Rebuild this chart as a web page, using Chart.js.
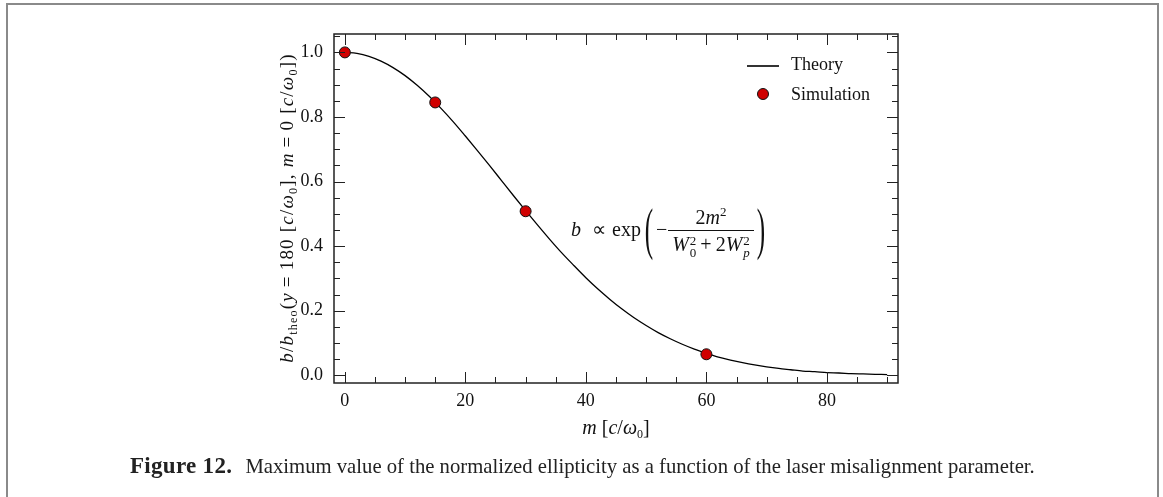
<!DOCTYPE html>
<html>
<head>
<meta charset="utf-8">
<script src="https://cdn.jsdelivr.net/npm/chart.js@4.4.1/dist/chart.umd.min.js"></script>
<style>
  html, body { margin: 0; padding: 0; background: #fff; }
  #wrap { position: relative; width: 1163px; height: 497px; overflow: hidden; }
  #frame { position: absolute; left: 6px; top: 3px; width: 1153px; height: 600px; border: 2px solid #8a8a8a; box-sizing: border-box; }
  canvas { position: absolute; left: 0; top: 0; }
  .tx { position: absolute; font-family: 'Liberation Serif', serif; color: #111; white-space: nowrap; }
  .tx i { font-style: italic; }
  .ss { display: inline-flex; flex-direction: column; font-size: 13px; line-height: 12px; vertical-align: middle; margin-left: 1px; position: relative; top: 1px; }
  .sb { font-size: 12px; position: relative; top: 4px; }
  .op { margin: 0 5px; }
  #xtitle { left: 556px; top: 416px; width: 120px; text-align: center; font-size: 20px; }
  #ytitle { left: 112px; top: 198px; width: 350px; height: 20px; line-height: 20px; text-align: center; font-size: 19px; letter-spacing: 1.2px; transform: rotate(-90deg); transform-origin: 50% 50%; }
  #formula { left: 571px; top: 201px; font-size: 20px; display: flex; align-items: center; height: 56px; }
  .paren { font-size: 36px; display: inline-block; transform: scale(0.7, 1.6); margin: 0 1px; }
  .frac { display: inline-flex; flex-direction: column; align-items: center; margin: 0 2px 0 3px; }
  .frac .num { padding: 0 2px 1px; border-bottom: 1px solid #111; width: 100%; text-align: center; line-height: 24px; }
  .frac .den { padding: 0 2px; line-height: 26px; }
  #caption { left: 130px; top: 453px; font-size: 20.7px; color: #222; }
  #caption b { font-size: 23px; letter-spacing: 0.3px; margin-right: 8px; }
</style>
</head>
<body>
<div id="wrap">
  <div id="frame"></div>
  <canvas id="c" width="1163" height="497"></canvas>
  <div class="tx" id="xtitle"><i>m</i> [<i>c</i>/<i>ω</i><span class="sb">0</span>]</div>
  <div class="tx" id="ytitle"><i>b</i>/<i>b</i><span class="sb">theo</span>(<i>y</i><span class="op">=</span>180 [<i>c</i>/<i>ω</i><span class="sb">0</span>], <i>m</i><span class="op">=</span>0 [<i>c</i>/<i>ω</i><span class="sb">0</span>])</div>
  <div class="tx" id="formula">
    <span><i>b</i></span>
    <span style="margin:0 6px 0 11px">∝</span>
    <span>exp</span>
    <span class="paren" style="margin-left:2px">(</span>
    <span>−</span>
    <span class="frac">
      <span class="num">2<i>m</i><sup style="font-size:13px">2</sup></span>
      <span class="den"><i>W</i><span class="ss"><span>2</span><span>0</span></span><span style="margin:0 4px">+</span>2<i>W</i><span class="ss"><span>2</span><span><i>p</i></span></span></span>
    </span>
    <span class="paren">)</span>
  </div>
  <div class="tx" id="caption"><b>Figure 12.</b> Maximum value of the normalized ellipticity as a function of the laser misalignment parameter.</div>
</div>
<script>
// ---- data ----
const theoryM = [0,2,4,6,8,10,12,14,16,18,20,22,24,26,28,30,32,34,36,38,40,42,44,46,48,50,52,54,56,58,60,62,64,66,68,70,72,74,76,78,80,82,84,86,88,90];
const theoryB = [1.000,0.997,0.988,0.973,0.953,0.928,0.898,0.864,0.826,0.785,0.741,0.696,0.650,0.603,0.556,0.510,0.465,0.421,0.379,0.340,0.302,0.267,0.235,0.205,0.178,0.154,0.132,0.113,0.096,0.081,0.068,0.056,0.047,0.039,0.032,0.026,0.021,0.017,0.013,0.011,0.008,0.007,0.005,0.004,0.003,0.002];
const simM = [0, 15, 30, 60];
const simB = [1.000, 0.845, 0.508, 0.065];
const xTicksMajor = [0, 20, 40, 60, 80];
const yTicksMajor = [0.0, 0.2, 0.4, 0.6, 0.8, 1.0];
const legendLabels = ['Theory', 'Simulation'];

const FONT = "'Liberation Serif', serif";

const theoryData = theoryM.map((m, i) => ({ x: m, y: theoryB[i] }));
const simData = simM.map((m, i) => ({ x: m, y: simB[i] }));

const boxTicks = {
  id: 'boxTicks',
  afterDatasetsDraw(chart) {
    const { ctx, chartArea: a, scales } = chart;
    const xs = scales.x, ys = scales.y;
    ctx.save();
    ctx.strokeStyle = '#222';
    ctx.lineWidth = 1;
    const major = 11, minor = 6;
    for (let v = 0; v <= 90; v += 5) {
      const px = Math.round(xs.getPixelForValue(v)) + 0.5;
      const len = (v % 20 === 0) ? major : minor;
      ctx.beginPath();
      ctx.moveTo(px, a.bottom); ctx.lineTo(px, a.bottom - len);
      ctx.moveTo(px, a.top); ctx.lineTo(px, a.top + len);
      ctx.stroke();
    }
    for (let k = 0; k <= 21; k++) {
      const v = k * 0.05;
      const py = Math.round(ys.getPixelForValue(v)) + 0.5;
      const len = (k % 4 === 0) ? major : minor;
      ctx.beginPath();
      ctx.moveTo(a.left, py); ctx.lineTo(a.left + len, py);
      ctx.moveTo(a.right, py); ctx.lineTo(a.right - len, py);
      ctx.stroke();
    }
    ctx.lineWidth = 1.5;
    ctx.strokeStyle = '#222';
    ctx.strokeRect(a.left, a.top, a.right - a.left, a.bottom - a.top);
    ctx.restore();
  },
  afterDraw(chart) {
    const { ctx, chartArea: a } = chart;
    const ds0 = chart.data.datasets[0], ds1 = chart.data.datasets[1];
    ctx.save();
    const x0 = a.right - 151;
    ctx.strokeStyle = ds0.borderColor; ctx.lineWidth = 1.6;
    ctx.beginPath(); ctx.moveTo(x0, a.top + 32); ctx.lineTo(x0 + 32, a.top + 32); ctx.stroke();
    ctx.fillStyle = ds1.backgroundColor; ctx.strokeStyle = ds1.borderColor; ctx.lineWidth = ds1.borderWidth;
    ctx.beginPath(); ctx.arc(x0 + 16, a.top + 60, ds1.pointRadius, 0, Math.PI * 2); ctx.fill(); ctx.stroke();
    ctx.fillStyle = '#111';
    ctx.font = '18px ' + FONT;
    ctx.textBaseline = 'middle';
    ctx.fillText(legendLabels[0], x0 + 44, a.top + 31);
    ctx.fillText(legendLabels[1], x0 + 44, a.top + 61);
    ctx.restore();
  }
};

new Chart(document.getElementById('c'), {
  type: 'scatter',
  data: {
    datasets: [
      { label: legendLabels[0], data: theoryData, showLine: true, borderColor: '#000', borderWidth: 1.3,
        pointRadius: 0, pointHoverRadius: 0, fill: false, cubicInterpolationMode: 'monotone', order: 2 },
      { label: legendLabels[1], data: simData, showLine: false, backgroundColor: '#d00000', borderColor: '#111',
        borderWidth: 1, pointRadius: 5.5, pointHoverRadius: 5.5, order: 1 }
    ]
  },
  options: {
    responsive: false,
    animation: false,
    events: [],
    layout: { padding: { left: 250, top: 34, right: 265, bottom: 74 } },
    plugins: { legend: { display: false }, tooltip: { enabled: false } },
    scales: {
      x: {
        type: 'linear', min: -1.8, max: 91.8,
        grid: { display: false, drawTicks: false },
        border: { display: false },
        afterFit(s) { s.height = 40; },
        afterBuildTicks(s) { s.ticks = xTicksMajor.map(v => ({ value: v })); },
        ticks: { padding: 7, color: '#111', font: { family: FONT, size: 18 }, callback: v => String(v) }
      },
      y: {
        type: 'linear', min: -0.024, max: 1.057,
        grid: { display: false, drawTicks: false },
        border: { display: false },
        afterFit(s) { s.width = 84; },
        afterBuildTicks(s) { s.ticks = yTicksMajor.map(v => ({ value: v })); },
        ticks: { padding: 11, color: '#111', font: { family: FONT, size: 18 }, callback: v => Number(v).toFixed(1) }
      }
    }
  },
  plugins: [boxTicks]
});
</script>
</body>
</html>
